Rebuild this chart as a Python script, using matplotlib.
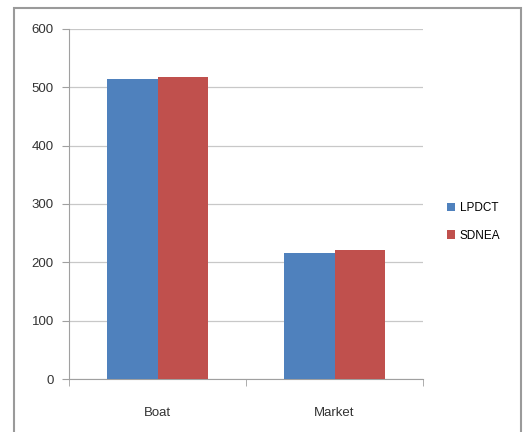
import numpy as np
import matplotlib.pyplot as plt
from matplotlib.patches import Rectangle

# values per category for each method
categories = ["Boat", "Market"]
lpdct = [515, 216]
sdnea = [517, 221]

plt.rcParams['font.family'] = ['Liberation Sans', 'DejaVu Sans']

fig = plt.figure(figsize=(5.28, 4.32), dpi=100)
ax = fig.add_axes([69 / 528, 1 - 379 / 432, 354 / 528, 350 / 432])

x = np.arange(len(categories))
w = 0.285
ax.bar(x - w / 2, lpdct, w, color="#4F81BD", label="LPDCT", zorder=3)
ax.bar(x + w / 2, sdnea, w, color="#C0504D", label="SDNEA", zorder=3)

ax.set_xlim(-0.5, len(categories) - 0.5)
ax.set_ylim(0, 600)
ax.set_yticks(range(0, 601, 100))
ax.set_xticks(x)
ax.set_xticklabels(categories)
ax.set_xticks(np.arange(-0.5, len(categories), 1), minor=True)

ax.grid(axis="y", color="#c8c8c8", linewidth=0.9, zorder=0)
for s in ["top", "right"]:
    ax.spines[s].set_visible(False)
for s in ["left", "bottom"]:
    ax.spines[s].set_color("#a0a0a0")
ax.tick_params(axis="y", length=5, color="#a0a0a0", labelsize=9.5, labelcolor="#333333", pad=6)
ax.tick_params(axis="x", which="major", length=0, labelsize=9.5, labelcolor="#333333", pad=20)
ax.tick_params(axis="x", which="minor", length=5, color="#a0a0a0")

leg = fig.legend(loc="center left", bbox_to_anchor=(436 / 528, 1 - 222 / 432),
                 frameon=False, fontsize=8.5, handlelength=0.7, handleheight=0.7,
                 handletextpad=0.4, labelspacing=1.3)

# outer chart frame
fig.patches.append(Rectangle((14 / 528, -0.05), 507 / 528, 1.05 - 8 / 432,
                             transform=fig.transFigure, fill=False,
                             edgecolor="#9a9a9a", linewidth=1.5))

fig.savefig("out.png", dpi=100)
